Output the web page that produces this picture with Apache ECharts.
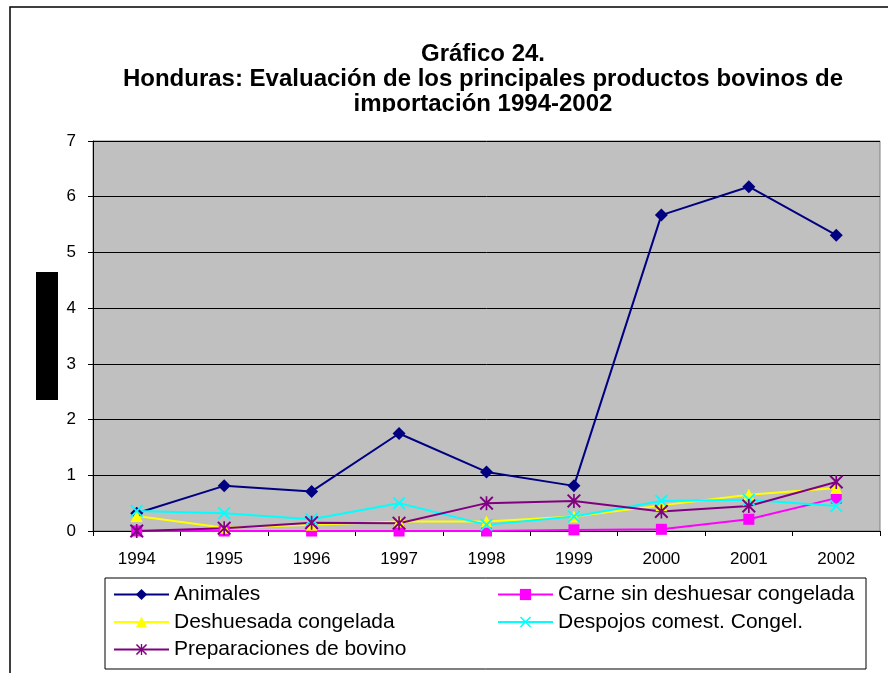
<!DOCTYPE html>
<html style="height: 100%">
<head>
    <meta charset="UTF-8">
    <title>Gráfico 24 - Honduras</title>
    <script src="https://cdn.jsdelivr.net/npm/echarts@6/dist/echarts.min.js"></script>
</head>
<body style="height: 100%; margin: 0; background: #fff">
    <div id="main" style="width: 888px; height: 673px"></div>
    <script type="text/javascript">
        var years = ['1994', '1995', '1996', '1997', '1998', '1999', '2000', '2001', '2002'];
        var animales = [0.32, 0.81, 0.71, 1.75, 1.06, 0.81, 5.67, 6.18, 5.31];
        var carne = [0, 0, 0, 0, 0, 0.02, 0.03, 0.21, 0.59];
        var deshuesada = [0.27, 0.06, 0.11, 0.17, 0.17, 0.26, 0.46, 0.65, 0.77];
        var despojos = [0.36, 0.32, 0.21, 0.50, 0.11, 0.26, 0.54, 0.56, 0.45];
        var preparaciones = [0, 0.05, 0.15, 0.14, 0.50, 0.54, 0.35, 0.45, 0.88];

        var font = 'Liberation Sans, Arial, sans-serif';
        // simbolos tipo Excel: aspa y asterisco
        var xMark = 'path://M0,1L1,0L5,4L9,0L10,1L6,5L10,9L9,10L5,6L1,10L0,9L4,5Z';
        var starMark = 'path://M0,1L1,0L5,4L9,0L10,1L6,5L10,9L9,10L5,6L1,10L0,9L4,5Z' +
            'M4.4,0L5.6,0L5.6,10L4.4,10Z';

        function serie(name, data, color, symbol, size) {
            return {
                name: name,
                type: 'line',
                data: data,
                symbol: symbol,
                symbolSize: size,
                lineStyle: {color: color, width: 2},
                itemStyle: {color: color},
                animation: false
            };
        }

        var legendText = {fontFamily: font, fontSize: 21, color: '#000'};

        var myChart = echarts.init(document.getElementById('main'));

        myChart.setOption({
            backgroundColor: '#fff',
            textStyle: {fontFamily: font},
            title: {
                text: 'Gráfico 24.\nHonduras: Evaluación de los principales productos bovinos de\nimportación 1994-2002',
                left: 478,
                top: 37,
                textAlign: 'center',
                textStyle: {
                    fontFamily: font,
                    fontSize: 24,
                    fontWeight: 'bold',
                    color: '#000',
                    lineHeight: 25
                }
            },
            grid: {
                left: 93,
                right: 8,
                top: 141,
                bottom: 142,
                show: true,
                backgroundColor: '#C0C0C0',
                borderColor: '#808080',
                borderWidth: 1
            },
            legend: [
                {
                    data: ['Animales', 'Deshuesada congelada', 'Preparaciones de bovino'],
                    orient: 'vertical',
                    left: 113,
                    top: 584,
                    padding: 0,
                    itemWidth: 55,
                    itemHeight: 14,
                    itemGap: 6.5,
                    textStyle: legendText
                },
                {
                    data: ['Carne sin deshuesar congelada', 'Despojos comest. Congel.'],
                    orient: 'vertical',
                    left: 497,
                    top: 584,
                    padding: 0,
                    itemWidth: 55,
                    itemHeight: 14,
                    itemGap: 6.5,
                    textStyle: legendText
                }
            ],
            xAxis: {
                type: 'category',
                data: years,
                boundaryGap: true,
                axisLine: {lineStyle: {color: '#000', width: 1}},
                axisTick: {show: true, interval: 0, length: 5, lineStyle: {color: '#000'}},
                axisLabel: {color: '#000', fontSize: 17, margin: 20, interval: 0}
            },
            yAxis: {
                type: 'value',
                min: 0,
                max: 7,
                interval: 1,
                axisLine: {show: true, lineStyle: {color: '#000', width: 1}},
                axisTick: {show: true, length: 5, lineStyle: {color: '#000'}},
                axisLabel: {color: '#000', fontSize: 17, margin: 17},
                splitLine: {lineStyle: {color: '#000', width: 1}}
            },
            graphic: [
                {
                    type: 'rect',
                    shape: {x: 10, y: 7, width: 900, height: 700},
                    style: {fill: 'none', stroke: '#000', lineWidth: 1.5},
                    silent: true
                },
                {
                    // la tercera linea del titulo queda recortada
                    type: 'rect',
                    shape: {x: 340, y: 112, width: 280, height: 16},
                    style: {fill: '#fff'},
                    z: 100,
                    silent: true
                },
                {
                    type: 'rect',
                    shape: {x: 36, y: 272, width: 22, height: 128},
                    style: {fill: '#000'},
                    silent: true
                },
                {
                    type: 'rect',
                    shape: {x: 105, y: 578, width: 761, height: 91},
                    style: {fill: 'none', stroke: '#000', lineWidth: 1},
                    silent: true
                }
            ],
            series: [
                serie('Animales', animales, '#000080', 'diamond', 13),
                serie('Carne sin deshuesar congelada', carne, '#FF00FF', 'rect', 11),
                serie('Deshuesada congelada', deshuesada, '#FFFF00', 'triangle', 12),
                serie('Despojos comest. Congel.', despojos, '#00FFFF', xMark, 13),
                serie('Preparaciones de bovino', preparaciones, '#800080', starMark, 14)
            ]
        });
    </script>
</body>
</html>
